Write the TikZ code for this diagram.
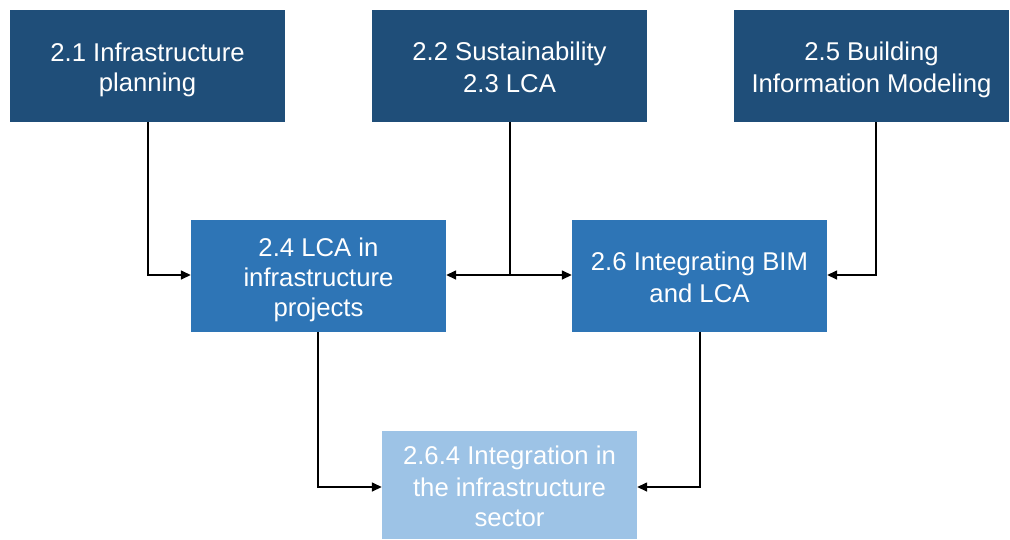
\documentclass[tikz,border=0pt]{standalone}
\usepackage{fontspec}
\setmainfont{Liberation Sans}
\usetikzlibrary{arrows.meta}
\definecolor{darkb}{HTML}{1F4E79}
\definecolor{midb}{HTML}{2E75B6}
\definecolor{lightb}{HTML}{9DC3E6}
\newcommand{\lstr}{\rule[-4.5pt]{0pt}{30pt}}
\begin{document}
\begin{tikzpicture}[x=1pt,y=-1pt,
  box/.style={minimum width=#1pt,inner sep=0pt,text=white,align=center,
    font=\fontsize{25.7}{30}\selectfont},
  conn/.style={line width=1.5pt,-{Triangle[length=10pt,width=9pt]}},
  both/.style={line width=1.5pt,{Triangle[length=10pt,width=9pt]}-{Triangle[length=10pt,width=9pt]}}]
\useasboundingbox (0,0) rectangle (1010,539);
\node[fill=darkb,box=275,minimum height=112pt] (b1) at (147.5,66) {\lstr 2.1 Infrastructure\\\lstr planning};
\node[fill=darkb,box=275,minimum height=112pt] (b2) at (509.5,66) {\lstr 2.2 Sustainability\\\lstr 2.3 LCA};
\node[fill=darkb,box=275,minimum height=112pt] (b3) at (871.5,66) {\lstr 2.5 Building\\\lstr Information Modeling};
\node[fill=midb,box=255,minimum height=112pt] (b4) at (318.5,276) {\lstr 2.4 LCA in\\\lstr infrastructure\\\lstr projects};
\node[fill=midb,box=255,minimum height=112pt] (b5) at (699.5,276) {\lstr 2.6 Integrating BIM\\\lstr and LCA};
\node[fill=lightb,box=255,minimum height=108pt] (b6) at (509.5,485) {\lstr 2.6.4 Integration in\\\lstr the infrastructure\\\lstr sector};
\coordinate (j) at (510,275);
\draw[conn] (148,122) |- (b4.west |- j);
\draw[line width=1.5pt] (510,122) -- (j);
\draw[both] (b4.east |- j) -- (b5.west |- j);
\draw[conn] (876,122) |- (b5.east |- j);
\draw[conn] (318,332) |- (b6.west |- 0,487);
\draw[conn] (700,332) |- (b6.east |- 0,487);
\end{tikzpicture}
\end{document}
